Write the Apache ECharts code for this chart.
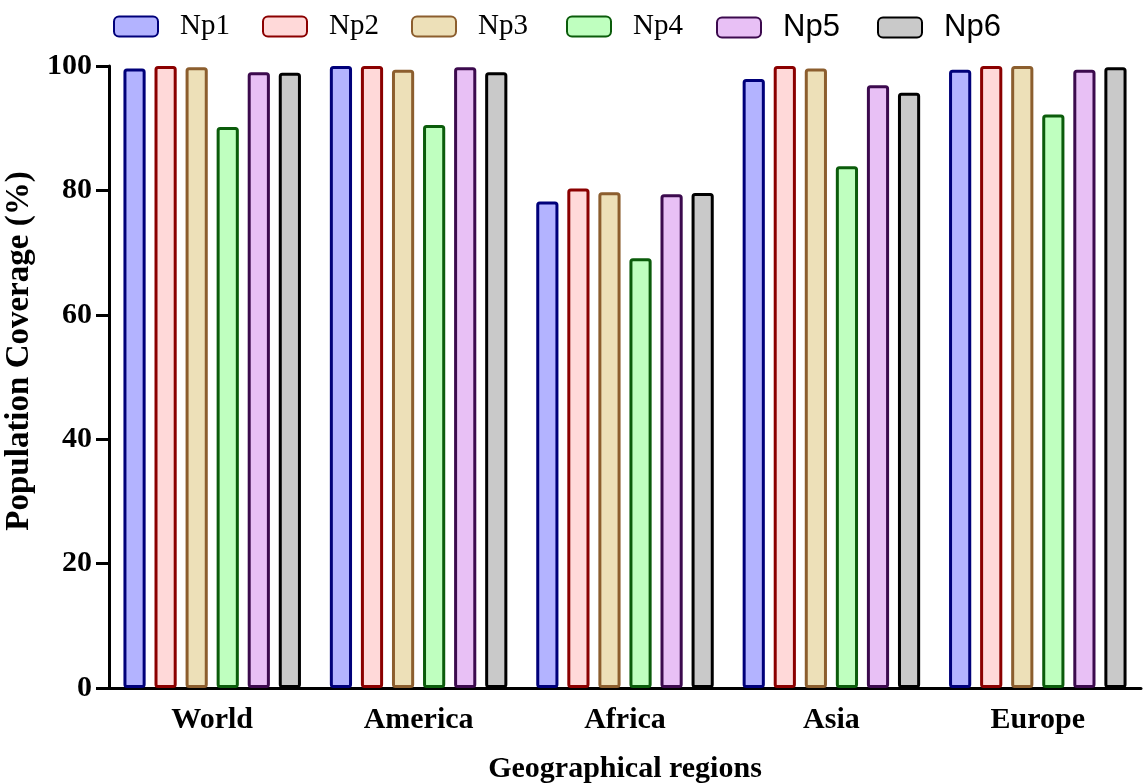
<!DOCTYPE html>
<html>
<head>
<meta charset="utf-8">
<script src="https://cdn.jsdelivr.net/npm/echarts@6/dist/echarts.min.js"></script>
<style>html,body{margin:0;padding:0;background:#fff;}#c{width:1147px;height:784px;}</style>
</head>
<body>
<div id="c"></div>
<script>
var categories = ['World', 'America', 'Africa', 'Asia', 'Europe'];
var seriesNames = ['Np1', 'Np2', 'Np3', 'Np4', 'Np5', 'Np6'];
var np1 = [99.6, 100, 78.2, 97.9, 99.4];
var np2 = [100, 100, 80.3, 100, 100];
var np3 = [99.8, 99.4, 79.7, 99.6, 100];
var np4 = [90.2, 90.5, 69.1, 83.9, 92.2];
var np5 = [99.0, 99.8, 79.4, 96.9, 99.4];
var np6 = [98.9, 99.0, 79.6, 95.7, 99.8];
var yTicks = [0, 20, 40, 60, 80, 100];

var values = [np1, np2, np3, np4, np5, np6];
var fills = ['#b3b3ff', '#ffd9d9', '#ede0b8', '#bfffbf', '#e8c0f5', '#c9c9c9'];
var borders = ['#00007a', '#8b0000', '#8c5e2e', '#0b5c0b', '#3c0a4e', '#000000'];
var legendLeft = [108, 257, 406, 561, 711, 872];
var legendFont = ['Liberation Serif', 'Liberation Serif', 'Liberation Serif', 'Liberation Serif', 'Liberation Sans', 'Liberation Sans'];
var legendSize = [29, 29, 29, 29, 31, 31];

var series = seriesNames.map(function (n, i) {
  return {
    name: n, type: 'bar', data: values[i],
    barGap: '40%', barCategoryGap: '14%',
    itemStyle: { color: fills[i], borderColor: borders[i], borderWidth: 3, borderRadius: 2 }
  };
});

var legends = seriesNames.map(function (n, i) {
  return {
    left: legendLeft[i], top: 7,
    itemWidth: 44, itemHeight: 20,
    icon: 'roundRect',
    data: [{ name: n }],
    textStyle: { fontFamily: legendFont[i], fontSize: legendSize[i], color: '#000', padding: [0, 0, 0, 17] },
    selectedMode: false
  };
});

var chart = echarts.init(document.getElementById('c'));
chart.setOption({
  backgroundColor: '#fff',
  animation: false,
  legend: legends,
  grid: { left: 109, right: 6, top: 66, bottom: 96, containLabel: false, outerBoundsMode: 'none' },
  xAxis: {
    type: 'category', data: categories,
    axisLine: { lineStyle: { color: '#000', width: 3 } },
    axisTick: { alignWithLabel: true, length: 13, lineStyle: { color: '#000', width: 3 } },
    axisLabel: { fontFamily: 'Liberation Serif', fontWeight: 'bold', fontSize: 30, color: '#000', margin: 17 },
    name: 'Geographical regions', nameLocation: 'middle', nameGap: 66,
    nameTextStyle: { fontFamily: 'Liberation Serif', fontWeight: 'bold', fontSize: 30, color: '#000' }
  },
  yAxis: {
    type: 'value', min: 0, max: 100, interval: 20,
    splitLine: { show: false },
    axisLine: { show: true, lineStyle: { color: '#000', width: 3 } },
    axisTick: { show: true, length: 13, lineStyle: { color: '#000', width: 3 } },
    axisLabel: { fontFamily: 'Liberation Serif', fontWeight: 'bold', fontSize: 30, color: '#000', margin: 17,
      formatter: function (v) { return yTicks.indexOf(v) >= 0 ? String(v) : ''; } },
    name: 'Population Coverage (%)', nameLocation: 'middle', nameGap: 64,
    nameTextStyle: { fontFamily: 'Liberation Serif', fontWeight: 'bold', fontSize: 33, color: '#000', padding: [0, 0, 0, 52] }
  },
  series: series
});
</script>
</body>
</html>
